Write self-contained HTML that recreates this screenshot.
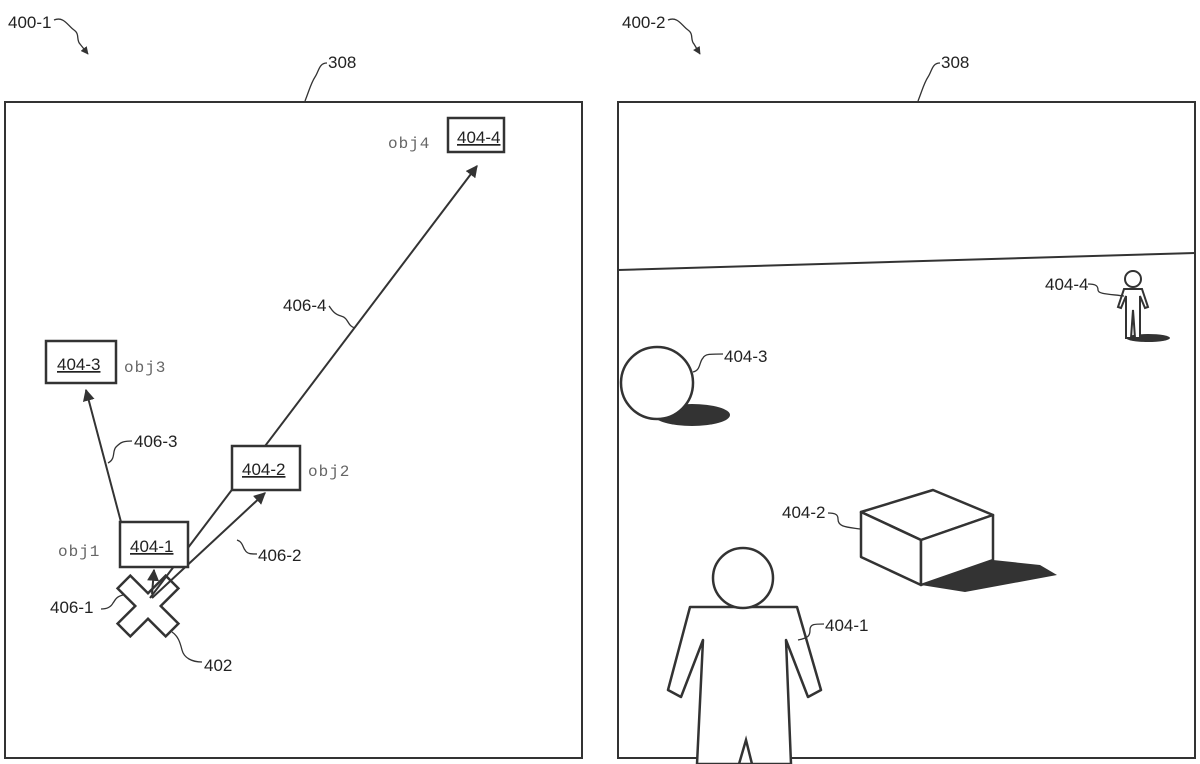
<!DOCTYPE html>
<html><head><meta charset="utf-8"><style>
html,body{margin:0;padding:0;background:#fff;}
svg{display:block;}
text{font-family:"Liberation Sans",sans-serif;font-size:17px;fill:#222;}
.m{font-family:"Liberation Mono",monospace;font-size:16px;fill:#666;letter-spacing:1px;}
.u{text-decoration:underline;}
</style></head><body>
<svg width="1200" height="764" viewBox="0 0 1200 764" xmlns="http://www.w3.org/2000/svg">
<defs>
<marker id="ah" viewBox="0 0 10 10" refX="9" refY="5" markerWidth="6" markerHeight="6" orient="auto"><path d="M0,0 L10,5 L0,10 z" fill="#333"/></marker>
</defs>
<g fill="none" stroke="#333" stroke-width="2">
<rect x="5" y="102" width="577" height="656"/>
<rect x="618" y="102" width="577" height="656"/>
<line x1="618" y1="270" x2="1195" y2="253"/>
</g>
<!-- headers -->
<text x="8" y="28">400-1</text>
<path d="M54,20 c10,-4 14,6 20,10 c6,4 2,10 6,14 l8,10" fill="none" stroke="#333" stroke-width="1.3" marker-end="url(#ah)"/>
<text x="622" y="28">400-2</text>
<path d="M668,20 c10,-4 14,6 20,10 c6,4 2,10 6,14 l6,10" fill="none" stroke="#333" stroke-width="1.3" marker-end="url(#ah)"/>
<text x="328" y="68">308</text>
<path d="M327,63 c-8,0 -8,8 -12,14 c-4,6 -6,14 -10,24" fill="none" stroke="#333" stroke-width="1.3"/>
<text x="941" y="68">308</text>
<path d="M940,63 c-8,0 -8,8 -12,14 c-4,6 -6,14 -10,24" fill="none" stroke="#333" stroke-width="1.3"/>

<!-- left panel: X -->
<g transform="translate(148,606) rotate(45)">
<path d="M-9,-34 h18 v25 h25 v18 h-25 v25 h-18 v-25 h-25 v-18 h25 z" fill="#fff" stroke="#333" stroke-width="2.5"/>
</g>
<g stroke="#333" stroke-width="2" fill="none" marker-end="url(#ah)">
<line x1="150" y1="598" x2="477" y2="166"/>
<line x1="121" y1="522" x2="86" y2="390"/>
<line x1="152" y1="598" x2="265" y2="493"/>
<line x1="152" y1="594" x2="154" y2="570"/>
</g>
<g fill="#fff" stroke="#333" stroke-width="2.5">
<rect x="448" y="118" width="56" height="34"/>
<rect x="46" y="341" width="70" height="42"/>
<rect x="232" y="446" width="68" height="44"/>
<rect x="120" y="522" width="68" height="45"/>
</g>
<text x="457" y="143" class="u">404-4</text>
<text x="57" y="370" class="u">404-3</text>
<text x="242" y="475" class="u">404-2</text>
<text x="130" y="552" class="u">404-1</text>
<text x="388" y="148" class="m">obj4</text>
<text x="124" y="372" class="m">obj3</text>
<text x="308" y="476" class="m">obj2</text>
<text x="58" y="556" class="m">obj1</text>
<g fill="none" stroke="#333" stroke-width="1.3">
<path d="M355,328 c-8,-2 -6,-10 -14,-12 c-8,-2 -10,-8 -12,-10"/>
<path d="M108,463 c8,-4 4,-12 8,-16 c4,-4 6,-6 16,-6"/>
<path d="M237,540 c6,2 6,8 8,10 c2,4 6,4 12,4"/>
<path d="M123,595 c-8,2 -8,6 -10,8 c-2,4 -6,6 -12,6"/>
<path d="M172,632 c6,4 8,10 10,18 c2,8 10,12 20,12"/>
</g>
<text x="283" y="311">406-4</text>
<text x="134" y="447">406-3</text>
<text x="258" y="561">406-2</text>
<text x="50" y="613">406-1</text>
<text x="204" y="671">402</text>

<!-- right panel -->
<ellipse cx="692" cy="415" rx="38" ry="11" fill="#333"/>
<circle cx="657" cy="383" r="36" fill="#fff" stroke="#333" stroke-width="2.5"/>
<path d="M693,372 c8,-2 6,-10 10,-14 c2,-4 6,-4 20,-4" fill="none" stroke="#333" stroke-width="1.3"/>
<text x="724" y="362">404-3</text>

<ellipse cx="1148" cy="338" rx="22" ry="4" fill="#333"/>
<g fill="#fff" stroke="#333" stroke-width="2">
<circle cx="1133" cy="279" r="8"/>
<path d="M1124,289 h18 l6,18 l-3,1 l-5,-12 v42 h-5 l-2,-28 l-2,28 h-5 v-42 l-5,12 l-3,-1 z"/>
</g>
<path d="M1088,284 c8,0 10,2 10,6 c0,4 10,4 26,6" fill="none" stroke="#333" stroke-width="1.3"/>
<text x="1045" y="290">404-4</text>

<path d="M921,585 L993,560 L1040,565 L1057,575 L965,592 z" fill="#333"/>
<g fill="#fff" stroke="#333" stroke-width="2.5" stroke-linejoin="round">
<path d="M861,512 L933,490 L993,515 L921,540 z"/>
<path d="M861,512 L921,540 L921,585 L861,557 z"/>
<path d="M921,540 L993,515 L993,560 L921,585 z"/>
</g>
<path d="M828,513 c8,0 10,2 10,6 c0,8 8,8 22,10" fill="none" stroke="#333" stroke-width="1.3"/>
<text x="782" y="518">404-2</text>

<g fill="#fff" stroke="#333" stroke-width="2.5" stroke-linejoin="round">
<path d="M690,607 L797,607 L821,690 L808,697 L786,640 L791,764 L697,764 L703,640 L681,697 L668,690 z"/>
<circle cx="743" cy="578" r="30"/>
</g>
<path d="M739,764 L746,740 L752,764" fill="none" stroke="#333" stroke-width="2.5"/>
<path d="M798,640 c10,-2 12,-4 12,-10 c0,-6 4,-6 14,-6" fill="none" stroke="#333" stroke-width="1.3"/>
<text x="825" y="631">404-1</text>
</svg>
</body></html>
